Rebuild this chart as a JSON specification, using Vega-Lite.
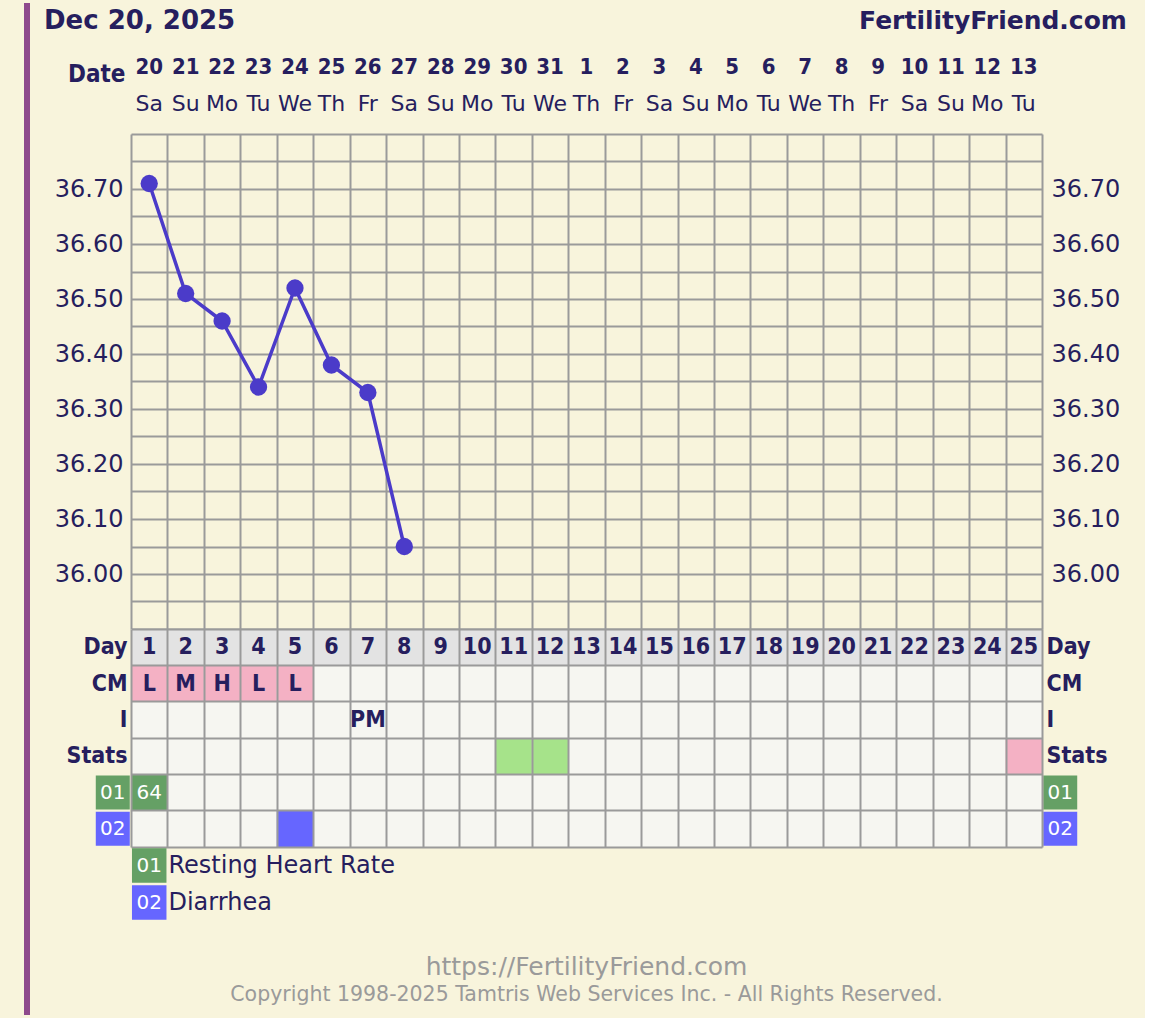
{
  "$schema": "https://vega.github.io/schema/vega-lite/v6.json",
  "padding": {"left": 24, "top": 0, "right": 18, "bottom": 0},
  "autosize": {"type": "pad"},
  "bounds": "flush",
  "spacing": 0,
  "resolve": {"scale": {"color": "independent"}},
  "datasets": {
    "edge": [{"part": "border"}],
    "dates": [
      {"day": 1, "date": "20", "dow": "Sa"}, {"day": 2, "date": "21", "dow": "Su"}, {"day": 3, "date": "22", "dow": "Mo"},
      {"day": 4, "date": "23", "dow": "Tu"}, {"day": 5, "date": "24", "dow": "We"}, {"day": 6, "date": "25", "dow": "Th"},
      {"day": 7, "date": "26", "dow": "Fr"}, {"day": 8, "date": "27", "dow": "Sa"}, {"day": 9, "date": "28", "dow": "Su"},
      {"day": 10, "date": "29", "dow": "Mo"}, {"day": 11, "date": "30", "dow": "Tu"}, {"day": 12, "date": "31", "dow": "We"},
      {"day": 13, "date": "1", "dow": "Th"}, {"day": 14, "date": "2", "dow": "Fr"}, {"day": 15, "date": "3", "dow": "Sa"},
      {"day": 16, "date": "4", "dow": "Su"}, {"day": 17, "date": "5", "dow": "Mo"}, {"day": 18, "date": "6", "dow": "Tu"},
      {"day": 19, "date": "7", "dow": "We"}, {"day": 20, "date": "8", "dow": "Th"}, {"day": 21, "date": "9", "dow": "Fr"},
      {"day": 22, "date": "10", "dow": "Sa"}, {"day": 23, "date": "11", "dow": "Su"}, {"day": 24, "date": "12", "dow": "Mo"},
      {"day": 25, "date": "13", "dow": "Tu"}
    ],
    "temps": [
      {"day": 1, "temp": 36.71}, {"day": 2, "temp": 36.51}, {"day": 3, "temp": 36.46}, {"day": 4, "temp": 36.34},
      {"day": 5, "temp": 36.52}, {"day": 6, "temp": 36.38}, {"day": 7, "temp": 36.33}, {"day": 8, "temp": 36.05}
    ],
    "table": [
      {"row": "Day", "day": 1, "label": "1", "kind": "day"}, {"row": "Day", "day": 2, "label": "2", "kind": "day"},
      {"row": "Day", "day": 3, "label": "3", "kind": "day"}, {"row": "Day", "day": 4, "label": "4", "kind": "day"},
      {"row": "Day", "day": 5, "label": "5", "kind": "day"}, {"row": "Day", "day": 6, "label": "6", "kind": "day"},
      {"row": "Day", "day": 7, "label": "7", "kind": "day"}, {"row": "Day", "day": 8, "label": "8", "kind": "day"},
      {"row": "Day", "day": 9, "label": "9", "kind": "day"}, {"row": "Day", "day": 10, "label": "10", "kind": "day"},
      {"row": "Day", "day": 11, "label": "11", "kind": "day"}, {"row": "Day", "day": 12, "label": "12", "kind": "day"},
      {"row": "Day", "day": 13, "label": "13", "kind": "day"}, {"row": "Day", "day": 14, "label": "14", "kind": "day"},
      {"row": "Day", "day": 15, "label": "15", "kind": "day"}, {"row": "Day", "day": 16, "label": "16", "kind": "day"},
      {"row": "Day", "day": 17, "label": "17", "kind": "day"}, {"row": "Day", "day": 18, "label": "18", "kind": "day"},
      {"row": "Day", "day": 19, "label": "19", "kind": "day"}, {"row": "Day", "day": 20, "label": "20", "kind": "day"},
      {"row": "Day", "day": 21, "label": "21", "kind": "day"}, {"row": "Day", "day": 22, "label": "22", "kind": "day"},
      {"row": "Day", "day": 23, "label": "23", "kind": "day"}, {"row": "Day", "day": 24, "label": "24", "kind": "day"},
      {"row": "Day", "day": 25, "label": "25", "kind": "day"},
      {"row": "CM", "day": 1, "label": "L", "kind": "cm"}, {"row": "CM", "day": 2, "label": "M", "kind": "cm"},
      {"row": "CM", "day": 3, "label": "H", "kind": "cm"}, {"row": "CM", "day": 4, "label": "L", "kind": "cm"},
      {"row": "CM", "day": 5, "label": "L", "kind": "cm"},
      {"row": "I", "day": 7, "label": "PM", "kind": "plain"},
      {"row": "Stats", "day": 11, "label": "", "kind": "sg"}, {"row": "Stats", "day": 12, "label": "", "kind": "sg"},
      {"row": "Stats", "day": 25, "label": "", "kind": "sp"},
      {"row": "01", "day": 1, "label": "64", "kind": "rhr"},
      {"row": "02", "day": 5, "label": "", "kind": "diar"},
      {"row": "01", "day": 0, "label": "01", "kind": "b01"}, {"row": "01", "day": 26, "label": "01", "kind": "b01"},
      {"row": "02", "day": 0, "label": "02", "kind": "b02"}, {"row": "02", "day": 26, "label": "02", "kind": "b02"}
    ],
    "legend": [
      {"code": "01", "name": "Resting Heart Rate"},
      {"code": "02", "name": "Diarrhea"}
    ],
    "footer": [
      {"line": "url", "label": "https://FertilityFriend.com"},
      {"line": "copy", "label": "Copyright 1998-2025 Tamtris Web Services Inc. - All Rights Reserved."}
    ]
  },
  "vconcat": [
    {
      "width": 911,
      "height": 131,
      "layer": [
        {
          "data": {"name": "edge"},
          "mark": {"type": "rule", "color": "#8e4a8c", "strokeWidth": 6},
          "encoding": {"x": {"datum": -2.354, "type": "quantitative", "scale": {"domain": [0.5, 25.5], "nice": false, "zero": false}, "axis": null}}
        },
        {
          "data": {"values": [{"label": "Dec 20, 2025"}]},
          "mark": {"type": "text", "align": "left", "baseline": "middle", "fontWeight": "bold", "fontSize": 26, "color": "#261e5e"},
          "encoding": {
            "x": {"datum": -1.887, "type": "quantitative"},
            "y": {"datum": "title", "type": "nominal", "scale": {"type": "point", "domain": ["title", "date", "dow"], "range": [18, 100.5], "padding": 0},
                  "axis": {"labelExpr": "datum.value == 'date' ? 'Date' : ''", "labelOffset": 12, "labelPadding": 6, "labelFont": "DejaVu Sans Condensed", "labelFontWeight": "bold", "labelFontSize": 24, "grid": false}},
            "text": {"field": "label"}
          }
        },
        {
          "data": {"values": [{"label": "FertilityFriend.com"}]},
          "mark": {"type": "text", "align": "right", "baseline": "middle", "fontWeight": "bold", "fontSize": 25, "color": "#261e5e"},
          "encoding": {
            "x": {"datum": 27.83, "type": "quantitative"},
            "y": {"datum": "title", "type": "nominal"},
            "text": {"field": "label"}
          }
        },
        {
          "data": {"name": "dates"},
          "mark": {"type": "text", "baseline": "middle", "font": "DejaVu Sans Condensed", "fontWeight": "bold", "fontSize": 22, "color": "#261e5e", "dy": 5},
          "encoding": {
            "x": {"field": "day", "type": "quantitative"},
            "y": {"datum": "date", "type": "nominal"},
            "text": {"field": "date"}
          }
        },
        {
          "data": {"name": "dates"},
          "mark": {"type": "text", "baseline": "middle", "fontSize": 22, "color": "#261e5e"},
          "encoding": {
            "x": {"field": "day", "type": "quantitative"},
            "y": {"datum": "dow", "type": "nominal"},
            "text": {"field": "dow"}
          }
        }
      ]
    },
    {
      "width": 911,
      "height": 495,
      "layer": [
        {
          "data": {"name": "edge"},
          "mark": {"type": "rule", "color": "#8e4a8c", "strokeWidth": 6},
          "encoding": {"x": {"datum": -2.354, "type": "quantitative"}}
        },
        {
          "data": {"name": "temps"},
          "mark": {"type": "line", "color": "#4b3bc9", "strokeWidth": 3.5},
          "encoding": {
            "x": {"field": "day", "type": "quantitative", "scale": {"domain": [0.5, 25.5], "nice": false, "zero": false},
                  "axis": {"values": [0.5,1.5,2.5,3.5,4.5,5.5,6.5,7.5,8.5,9.5,10.5,11.5,12.5,13.5,14.5,15.5,16.5,17.5,18.5,19.5,20.5,21.5,22.5,23.5,24.5,25.5], "tickCount": 100, "grid": true, "labels": false}},
            "y": {"field": "temp", "type": "quantitative", "scale": {"domain": [35.9, 36.8], "nice": false, "zero": false},
                  "axis": {"values": [35.9,35.95,36,36.05,36.1,36.15,36.2,36.25,36.3,36.35,36.4,36.45,36.5,36.55,36.6,36.65,36.7,36.75,36.8], "tickCount": 100, "grid": true,
                           "labelExpr": "abs(datum.value*10 - round(datum.value*10)) < 0.001 && datum.value > 35.95 && datum.value < 36.75 ? format(datum.value, '.2f') : ''",
                           "labelPadding": 8}}
          }
        },
        {
          "data": {"name": "temps"},
          "mark": {"type": "point", "filled": true, "opacity": 1, "size": 300, "color": "#4b3bc9"},
          "encoding": {
            "x": {"field": "day", "type": "quantitative"},
            "y": {"field": "temp", "type": "quantitative",
                  "axis": {"orient": "right", "values": [36, 36.1, 36.2, 36.3, 36.4, 36.5, 36.6, 36.7], "tickCount": 100, "format": ".2f", "grid": false, "labelPadding": 9}}
          }
        }
      ],
      "resolve": {"axis": {"y": "independent"}}
    },
    {
      "width": 911,
      "height": 218,
      "view": {"fill": "#f6f6f1"},
      "layer": [
        {
          "data": {"name": "edge"},
          "mark": {"type": "rule", "color": "#8e4a8c", "strokeWidth": 6},
          "encoding": {"x": {"datum": -2.354, "type": "quantitative"}}
        },
        {
          "data": {"name": "table"},
          "transform": [{"filter": "datum.kind != 'plain'"}],
          "mark": {"type": "point", "shape": "square", "filled": true, "opacity": 1, "strokeWidth": 0},
          "encoding": {
            "x": {"field": "day", "type": "quantitative", "scale": {"domain": [0.5, 25.5], "nice": false, "zero": false},
                  "axis": {"values": [0.5,1.5,2.5,3.5,4.5,5.5,6.5,7.5,8.5,9.5,10.5,11.5,12.5,13.5,14.5,15.5,16.5,17.5,18.5,19.5,20.5,21.5,22.5,23.5,24.5,25.5], "tickCount": 100, "grid": true, "labels": false, "domain": true, "domainColor": "#9a9a9a", "domainWidth": 2, "zindex": 1}},
            "y": {"field": "row", "type": "nominal", "scale": {"type": "band", "domain": ["Day", "CM", "I", "Stats", "01", "02"], "paddingInner": 0, "paddingOuter": 0},
                  "axis": {"grid": true, "bandPosition": 0, "zindex": 1, "labelPadding": 4,
                           "labelExpr": "(datum.value == '01' || datum.value == '02') ? '' : datum.value",
                           "labelFont": "DejaVu Sans Condensed", "labelFontWeight": "bold", "labelFontSize": 23}},
            "color": {"field": "kind", "type": "nominal", "legend": null,
                      "scale": {"domain": ["day", "cm", "sg", "sp", "rhr", "diar", "b01", "b02"],
                                "range": ["#e3e3e3", "#f4b1c4", "#a6e38a", "#f4b1c4", "#65a065", "#6666ff", "#65a065", "#6666ff"]}},
            "size": {"condition": {"test": "datum.day < 1 || datum.day > 25", "value": 1156}, "value": 1328}
          }
        },
        {
          "data": {"name": "table"},
          "transform": [{"filter": "datum.kind == 'day' || datum.kind == 'cm' || datum.kind == 'plain'"}],
          "mark": {"type": "text", "baseline": "middle", "font": "DejaVu Sans Condensed", "fontWeight": "bold", "fontSize": 23, "color": "#261e5e"},
          "encoding": {
            "x": {"field": "day", "type": "quantitative"},
            "y": {"field": "row", "type": "nominal",
                  "axis": {"orient": "right", "grid": false, "labelPadding": 4,
                           "labelExpr": "(datum.value == '01' || datum.value == '02') ? '' : datum.value",
                           "labelFont": "DejaVu Sans Condensed", "labelFontWeight": "bold", "labelFontSize": 23}},
            "text": {"field": "label"}
          }
        },
        {
          "data": {"name": "table"},
          "transform": [{"filter": "datum.kind == 'rhr' || datum.kind == 'b01' || datum.kind == 'b02'"}],
          "mark": {"type": "text", "baseline": "middle", "fontSize": 20, "color": "white"},
          "encoding": {
            "x": {"field": "day", "type": "quantitative"},
            "y": {"field": "row", "type": "nominal", "axis": null},
            "text": {"field": "label"}
          }
        }
      ],
      "resolve": {"axis": {"y": "independent"}}
    },
    {
      "width": 911,
      "height": 74,
      "layer": [
        {
          "data": {"name": "edge"},
          "mark": {"type": "rule", "color": "#8e4a8c", "strokeWidth": 6},
          "encoding": {"x": {"datum": -2.354, "type": "quantitative", "scale": {"domain": [0.5, 25.5], "nice": false, "zero": false}, "axis": null}}
        },
        {
          "data": {"name": "legend"},
          "mark": {"type": "point", "shape": "square", "filled": true, "opacity": 1, "strokeWidth": 0, "size": 1190},
          "encoding": {
            "x": {"datum": 1, "type": "quantitative"},
            "y": {"field": "code", "type": "nominal", "scale": {"type": "band", "domain": ["01", "02"], "paddingInner": 0, "paddingOuter": 0}, "axis": null},
            "color": {"field": "code", "type": "nominal", "legend": null, "scale": {"domain": ["01", "02"], "range": ["#65a065", "#6666ff"]}}
          }
        },
        {
          "data": {"name": "legend"},
          "mark": {"type": "text", "baseline": "middle", "fontSize": 20, "color": "white"},
          "encoding": {
            "x": {"datum": 1, "type": "quantitative"},
            "y": {"field": "code", "type": "nominal"},
            "text": {"field": "code"}
          }
        },
        {
          "data": {"name": "legend"},
          "mark": {"type": "text", "align": "left", "baseline": "middle", "fontSize": 24, "color": "#261e5e", "dx": 1},
          "encoding": {
            "x": {"datum": 1.5, "type": "quantitative"},
            "y": {"field": "code", "type": "nominal"},
            "text": {"field": "name"}
          }
        }
      ]
    },
    {
      "width": 911,
      "height": 94,
      "layer": [
        {
          "data": {"name": "edge"},
          "mark": {"type": "rule", "color": "#8e4a8c", "strokeWidth": 6},
          "encoding": {"x": {"datum": -2.354, "type": "quantitative", "scale": {"domain": [0.5, 25.5], "nice": false, "zero": false}, "axis": null}}
        },
        {
          "data": {"name": "footer"},
          "transform": [{"filter": "datum.line == 'url'"}],
          "mark": {"type": "text", "baseline": "middle", "fontSize": 25, "color": "#9a9a9a"},
          "encoding": {
            "x": {"datum": 13, "type": "quantitative"},
            "y": {"field": "line", "type": "nominal", "scale": {"type": "point", "domain": ["url", "copy"], "range": [46, 74], "padding": 0}, "axis": null},
            "text": {"field": "label"}
          }
        },
        {
          "data": {"name": "footer"},
          "transform": [{"filter": "datum.line == 'copy'"}],
          "mark": {"type": "text", "baseline": "middle", "fontSize": 20.5, "color": "#9a9a9a"},
          "encoding": {
            "x": {"datum": 13, "type": "quantitative"},
            "y": {"field": "line", "type": "nominal"},
            "text": {"field": "label"}
          }
        }
      ]
    }
  ],
  "config": {
    "background": "#f8f4dc",
    "font": "DejaVu Sans",
    "view": {"stroke": null},
    "axis": {
      "ticks": false, "domain": false, "title": null,
      "labelColor": "#261e5e", "labelFont": "DejaVu Sans", "labelFontSize": 24,
      "gridColor": "#9a9a9a", "gridWidth": 2, "gridOpacity": 1,
      "labelOverlap": false, "labelFlush": false, "labelBound": false
    }
  }
}
